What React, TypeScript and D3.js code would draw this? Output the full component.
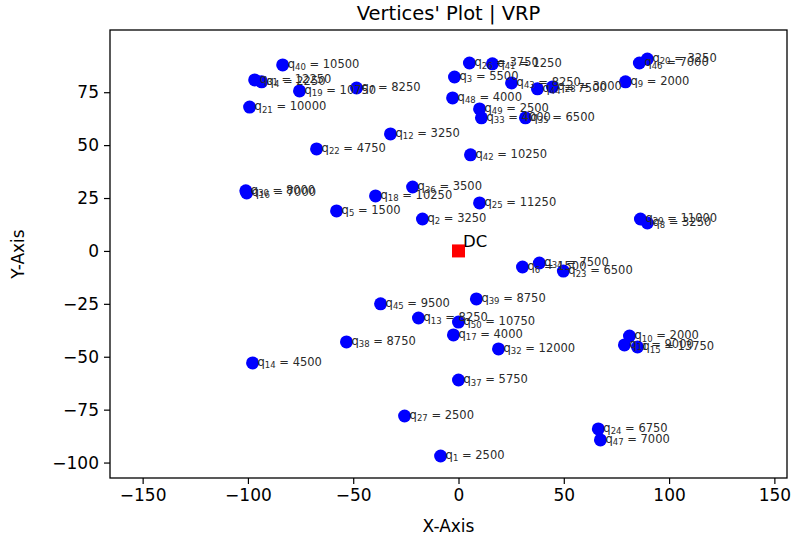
import React from "react";
import { select, scaleLinear, axisBottom, axisLeft } from "d3";

// customer vertices: index, coordinates, demand
const ids = [40, 31, 4, 19, 7, 21, 22, 12, 30, 16, 18, 36, 5, 2, 25, 42, 48, 3, 26, 41, 49, 33, 35, 43, 44, 28, 9, 20, 46, 29, 8, 6, 34, 23, 45, 39, 13, 50, 17, 38, 32, 14, 10, 11, 15, 37, 27, 1, 24, 47];
const xs = [-83.5, -96.8, -93.5, -75.5, -48.4, -99.2, -67.4, -32.3, -101, -100.6, -39.4, -21.8, -57.9, -17.1, 10, 5.7, -2.8, -1.9, 5.2, 16.1, 10, 10.9, 31.8, 25.2, 37.5, 44.6, 79.3, 89.7, 85.9, 86.4, 89.7, 30.4, 38.4, 49.8, -37, 8.5, -19, 0, -2.4, -53.2, 19, -97.8, 81.2, 78.8, 85, 0, -25.6, -8.5, 66.4, 67.4];
const ys = [87.9, 80.8, 79.9, 75.6, 77, 68, 48.2, 55.3, 28.4, 27.4, 26, 30.2, 18.9, 15.1, 22.7, 45.4, 72.3, 82.2, 88.8, 88.4, 67.1, 62.9, 62.9, 79.4, 76.6, 77.5, 79.9, 90.7, 88.8, 15.1, 13.2, -7.6, -5.7, -9.5, -25, -22.7, -31.7, -33.6, -39.7, -43, -46.3, -52.9, -40.2, -44.4, -45.4, -61, -78, -96.9, -84.1, -89.3];
const demands = [10500, 12250, 2250, 10750, 8250, 10000, 4750, 3250, 8000, 7000, 10250, 3500, 1500, 3250, 11250, 10250, 4000, 5500, 3750, 1250, 2500, 4000, 6500, 8250, 7500, 3000, 2000, 3250, 7000, 11000, 3250, 1500, 7500, 6500, 9500, 8750, 8250, 10750, 4000, 8750, 12000, 4500, 2000, 9000, 13750, 5750, 2500, 2500, 6750, 7000];

const depot = { x: 0, y: 0, name: "DC" };
const xTicks = [-150, -100, -50, 0, 50, 100, 150];
const yTicks = [-100, -75, -50, -25, 0, 25, 50, 75];

const W = 794;
const H = 538;
const m = { left: 110, right: 7, top: 30, bottom: 60 };
const font = "DejaVu Sans, sans-serif";

export default function App() {
  const svgRef = React.useRef<SVGSVGElement>(null);

  React.useEffect(() => {
    const svg = select(svgRef.current);
    svg.selectAll("*").remove();

    const x = scaleLinear().domain([-165.5, 156]).range([m.left, W - m.right]);
    const y = scaleLinear().domain([-107.3, 104.4]).range([H - m.bottom, m.top]);
    const fmt = (d: any) => (d < 0 ? "\u2212" + Math.abs(d) : String(d));

    const gx = svg
      .append("g")
      .attr("transform", `translate(0,${H - m.bottom})`)
      .call(axisBottom(x).tickValues(xTicks).tickFormat(fmt).tickSize(6).tickPadding(5));
    const gy = svg
      .append("g")
      .attr("transform", `translate(${m.left},0)`)
      .call(axisLeft(y).tickValues(yTicks).tickFormat(fmt).tickSize(6).tickPadding(5));
    [gx, gy].forEach((g) => {
      g.select(".domain").remove();
      g.selectAll("text").attr("font-family", font).attr("font-size", 17).attr("fill", "#000");
      g.selectAll("line").attr("stroke", "#000").attr("stroke-width", 1.2);
    });

    svg
      .append("rect")
      .attr("x", m.left)
      .attr("y", m.top)
      .attr("width", W - m.left - m.right)
      .attr("height", H - m.top - m.bottom)
      .attr("fill", "none")
      .attr("stroke", "#000")
      .attr("stroke-width", 1.3);

    // points
    svg
      .append("g")
      .selectAll("circle")
      .data(ids)
      .join("circle")
      .attr("cx", (d, i) => x(xs[i]))
      .attr("cy", (d, i) => y(ys[i]))
      .attr("r", 6.5)
      .attr("fill", "#0000ff");

    // labels
    const lab = svg
      .append("g")
      .attr("font-family", font)
      .attr("font-size", 11.5)
      .attr("fill", "#2a2a2a")
      .selectAll("text")
      .data(ids)
      .join("text")
      .attr("x", (d, i) => x(xs[i]) + 5)
      .attr("y", (d, i) => y(ys[i]) + 3);
    lab.append("tspan").text("q");
    lab.append("tspan").attr("font-size", 8.5).attr("dy", 2.5).text((d) => String(d));
    lab.append("tspan").attr("dy", -2.5).text((d, i) => " = " + demands[i]);

    // depot
    svg
      .append("rect")
      .attr("x", x(depot.x) - 6.5)
      .attr("y", y(depot.y) - 6.5)
      .attr("width", 13)
      .attr("height", 13)
      .attr("fill", "#ff0000");
    svg
      .append("text")
      .attr("x", x(depot.x) + 4.5)
      .attr("y", y(depot.y) - 4)
      .attr("font-family", font)
      .attr("font-size", 16.5)
      .text(depot.name);

    svg
      .append("text")
      .attr("x", (m.left + W - m.right) / 2)
      .attr("y", 20)
      .attr("text-anchor", "middle")
      .attr("font-family", font)
      .attr("font-size", 19.5)
      .text("Vertices' Plot | VRP");
    svg
      .append("text")
      .attr("x", (m.left + W - m.right) / 2)
      .attr("y", 532)
      .attr("text-anchor", "middle")
      .attr("font-family", font)
      .attr("font-size", 17)
      .text("X-Axis");
    svg
      .append("text")
      .attr("transform", `translate(24,${(m.top + H - m.bottom) / 2}) rotate(-90)`)
      .attr("text-anchor", "middle")
      .attr("font-family", font)
      .attr("font-size", 17)
      .text("Y-Axis");
  }, []);

  return (
    <svg
      ref={svgRef}
      width={W}
      height={H}
      style={{ position: "absolute", left: 0, top: 0, background: "#fff" }}
    />
  );
}
